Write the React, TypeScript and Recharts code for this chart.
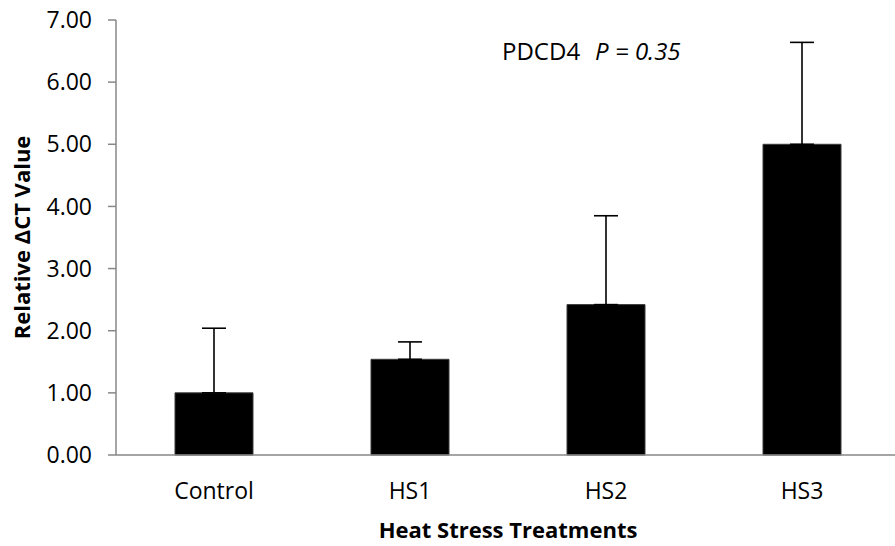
import React from 'react';
import { BarChart, Bar, XAxis, YAxis, ErrorBar, Label } from 'recharts';

const categories = ['Control', 'HS1', 'HS2', 'HS3'];
const means = [1.0, 1.54, 2.42, 5.0];
const errorsUp = [1.04, 0.28, 1.43, 1.64];
const yTicks = [0, 1, 2, 3, 4, 5, 6, 7];
const geneName = 'PDCD4';
const pText = 'P = 0.35';

const data = categories.map((c, i) => ({ name: c, value: means[i], err: [0, errorsUp[i]] }));

const FONT = '"Open Sans", sans-serif';
const AXIS_COLOR = '#878787';

const YTitle = (props: any) => {
  const vb = props.viewBox || {};
  const cx = 30;
  const cy = vb.y + vb.height / 2;
  return (
    <text x={cx} y={cy} transform={`rotate(-90, ${cx}, ${cy})`} textAnchor="middle"
      fontFamily={FONT} fontWeight="bold" fontSize={22} fill="#000">
      Relative ΔCT Value
    </text>
  );
};

const XTitle = (props: any) => {
  const vb = props.viewBox || {};
  return (
    <text x={vb.x + vb.width / 2} y={538} textAnchor="middle"
      fontFamily={FONT} fontWeight="bold" fontSize={22} fill="#000">
      Heat Stress Treatments
    </text>
  );
};

export default function App() {
  return (
    <div style={{ position: 'absolute', left: 0, top: 0, width: 895, height: 546, overflow: 'hidden', background: '#fff' }}>
      <BarChart width={900} height={546} data={data} margin={{ top: 20, right: 0, left: 0, bottom: 0 }}>
        <XAxis dataKey="name" height={91} tickSize={0} tickMargin={28} tickLine={false}
          axisLine={{ stroke: AXIS_COLOR, strokeWidth: 1.5 }}
          tick={{ fontFamily: FONT, fontSize: 23, fill: '#000' }}>
          <Label content={XTitle} />
        </XAxis>
        <YAxis width={116} domain={[0, 7]} ticks={yTicks} interval={0} tickSize={8} tickMargin={16}
          tickFormatter={(v: number) => v.toFixed(2)}
          axisLine={{ stroke: AXIS_COLOR, strokeWidth: 1.5 }}
          tickLine={{ stroke: AXIS_COLOR, strokeWidth: 1.5 }}
          tick={{ fontFamily: FONT, fontSize: 23, fill: '#000' }}>
          <Label content={YTitle} />
        </YAxis>
        <Bar dataKey="value" fill="#000" stroke="#3a3a3a" strokeWidth={1} barSize={78} isAnimationActive={false}>
          <ErrorBar dataKey="err" width={12} stroke="#000" strokeWidth={1.6} direction="y" />
        </Bar>
      </BarChart>
      <svg width={895} height={546} style={{ position: 'absolute', left: 0, top: 0, pointerEvents: 'none' }}>
        <text x={502} y={60} fontFamily={FONT} fontSize={24} fill="#000">
          {geneName}
          <tspan dx={15} fontStyle="italic">{pText}</tspan>
        </text>
      </svg>
    </div>
  );
}
